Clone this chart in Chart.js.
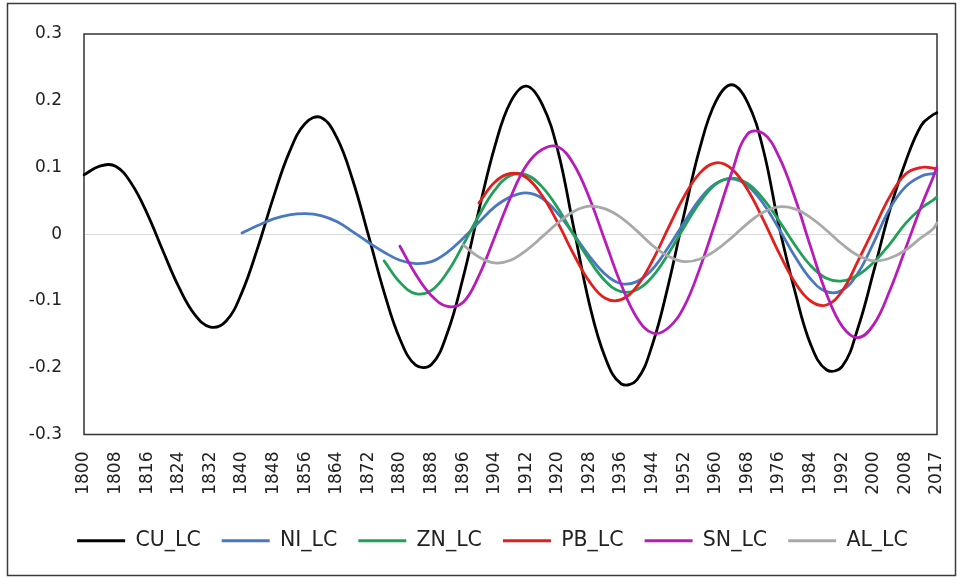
<!DOCTYPE html>
<html>
<head>
<meta charset="utf-8">
<script src="https://cdn.jsdelivr.net/npm/chart.js@4"></script>
<style>
  html, body { margin: 0; padding: 0; background: #ffffff; }
  #wrap { width: 960px; height: 578px; }
</style>
</head>
<body>
<div id="wrap"><canvas id="lcChart" width="960" height="578"></canvas></div>
<script>
// category axis: one label per year (2016 is not in the series)
const years = [];
for (let y = 1800; y <= 2017; y++) {
    if (y !== 2016) years.push(String(y));
}

// years where the cycle values were taken
const sampleYears = [1800, 1804, 1808, 1812, 1816, 1820, 1824, 1828, 1832, 1836,
    1840, 1844, 1848, 1852, 1856, 1860, 1864, 1868, 1872, 1876,
    1880, 1884, 1888, 1892, 1896, 1900, 1904, 1908, 1912, 1916,
    1920, 1924, 1928, 1932, 1936, 1940, 1944, 1948, 1952, 1956,
    1960, 1964, 1968, 1972, 1976, 1980, 1984, 1988, 1992, 1996,
    2000, 2004, 2008, 2012, 2015, 2017];

const cuLC = [0.089, 0.102, 0.102, 0.076, 0.031, -0.025, -0.079, -0.120, -0.139, -0.130,
    -0.087, -0.020, 0.056, 0.123, 0.166, 0.175, 0.145, 0.082, -0.001, -0.087,
    -0.157, -0.196, -0.195, -0.148, -0.065, 0.036, 0.131, 0.198, 0.222, 0.195,
    0.125, 0.010, -0.105, -0.185, -0.224, -0.218, -0.164, -0.075, 0.031, 0.130,
    0.199, 0.224, 0.198, 0.127, 0.012, -0.085, -0.165, -0.203, -0.198, -0.140,
    -0.055, 0.035, 0.108, 0.163, 0.179, 0.182];

const niLC = [null, null, null, null, null, null, null, null, null, null,
    0.002, 0.013, 0.023, 0.029, 0.031, 0.028, 0.019, 0.004, -0.012, -0.027,
    -0.039, -0.044, -0.041, -0.027, -0.006, 0.018, 0.041, 0.056, 0.062, 0.054,
    0.031, 0.000, -0.033, -0.060, -0.074, -0.071, -0.052, -0.019, 0.018, 0.053,
    0.076, 0.083, 0.073, 0.046, 0.008, -0.033, -0.067, -0.086, -0.084, -0.058,
    -0.012, 0.038, 0.071, 0.087, 0.091, 0.092];

const znLC = [null, null, null, null, null, null, null, null, null, null,
    null, null, null, null, null, null, null, null, null, -0.040,
    -0.072, -0.089, -0.084, -0.057, -0.016, 0.028, 0.066, 0.088, 0.089, 0.071,
    0.039, -0.001, -0.039, -0.070, -0.086, -0.083, -0.063, -0.029, 0.011, 0.048,
    0.075, 0.084, 0.076, 0.053, 0.020, -0.016, -0.047, -0.066, -0.070, -0.061,
    -0.042, -0.015, 0.016, 0.039, 0.051, 0.056];

const pbLC = [null, null, null, null, null, null, null, null, null, null,
    null, null, null, null, null, null, null, null, null, null,
    null, null, null, null, null, 0.047, 0.078, 0.091, 0.085, 0.058,
    0.017, -0.030, -0.071, -0.096, -0.098, -0.078, -0.039, 0.010, 0.057, 0.092,
    0.107, 0.098, 0.067, 0.022, -0.028, -0.072, -0.100, -0.106, -0.085, -0.040,
    0.008, 0.056, 0.090, 0.100, 0.099, 0.097];

const snLC = [null, null, null, null, null, null, null, null, null, null,
    null, null, null, null, null, null, null, null, null, null,
    -0.018, -0.060, -0.092, -0.108, -0.102, -0.062, -0.004, 0.055, 0.103, 0.127,
    0.131, 0.105, 0.054, -0.011, -0.075, -0.125, -0.148, -0.140, -0.108, -0.050,
    0.020, 0.092, 0.150, 0.151, 0.116, 0.055, -0.019, -0.089, -0.138, -0.155,
    -0.135, -0.085, -0.022, 0.042, 0.085, 0.101];

const alLC = [null, null, null, null, null, null, null, null, null, null,
    null, null, null, null, null, null, null, null, null, null,
    null, null, null, null, -0.016, -0.034, -0.043, -0.039, -0.024, -0.004,
    0.017, 0.034, 0.042, 0.038, 0.025, 0.005, -0.017, -0.033, -0.041, -0.037,
    -0.024, -0.005, 0.016, 0.033, 0.041, 0.038, 0.025, 0.006, -0.015, -0.032,
    -0.040, -0.036, -0.024, -0.005, 0.008, 0.017];

const yTicks = [-0.3, -0.2, -0.1, 0, 0.1, 0.2, 0.3];

const fontFamily = "'DejaVu Sans', 'Liberation Sans', sans-serif";

function toPoints(values) {
    return values
        .map((v, i) => ({ x: String(sampleYears[i]), y: v }))
        .filter(p => p.y !== null);
}

function series(label, values, color, order) {
    return {
        label: label,
        data: toPoints(values),
        borderColor: color,
        backgroundColor: color,
        borderWidth: 2.8,
        pointRadius: 0,
        pointHoverRadius: 0,
        tension: 0.4,
        fill: false,
        borderCapStyle: 'round',
        borderJoinStyle: 'round',
        order: order
    };
}

// white background, outer frame and the plot box
const framePlugin = {
    id: 'framePlugin',
    afterLayout(chart) {
        // legend row sits a bit right of the canvas centre
        const lg = chart.legend;
        if (lg) {
            lg.left += 24;
            lg.right += 24;
        }
    },
    beforeDraw(chart) {
        const ctx = chart.ctx;
        ctx.save();
        ctx.fillStyle = '#ffffff';
        ctx.fillRect(0, 0, chart.width, chart.height);
        ctx.strokeStyle = '#3a3a3a';
        ctx.lineWidth = 1.5;
        ctx.strokeRect(7.5, 3.5, 948, 572);
        ctx.restore();
    },
    beforeDatasetsDraw(chart) {
        const a = chart.chartArea;
        const ctx = chart.ctx;
        ctx.save();
        ctx.strokeStyle = '#333333';
        ctx.lineWidth = 1.5;
        ctx.strokeRect(a.left, a.top, a.right - a.left, a.bottom - a.top);
        ctx.restore();
    }
};

const ctx = document.getElementById('lcChart').getContext('2d');
const chart = new Chart(ctx, {
    type: 'line',
    data: {
        labels: years,
        datasets: [
            series('CU_LC', cuLC, '#000000', 6),
            series('NI_LC', niLC, '#4a78c0', 5),
            series('ZN_LC', znLC, '#22a05a', 4),
            series('PB_LC', pbLC, '#e0201e', 3),
            series('SN_LC', snLC, '#b81cb8', 2),
            series('AL_LC', alLC, '#a9a9a9', 1)
        ]
    },
    options: {
        responsive: false,
        animation: false,
        events: [],
        layout: {
            padding: { left: 0, right: 23, top: 34, bottom: 17 }
        },
        plugins: {
            tooltip: { enabled: false },
            legend: {
                position: 'bottom',
                reverse: true,
                labels: {
                    usePointStyle: true,
                    pointStyle: 'line',
                    pointStyleWidth: 48,
                    boxWidth: 48,
                    padding: 21,
                    color: '#222222',
                    font: { family: fontFamily, size: 20.5 }
                }
            }
        },
        scales: {
            x: {
                type: 'category',
                grid: { display: false, drawTicks: false },
                border: { display: false },
                ticks: {
                    autoSkip: false,
                    minRotation: 90,
                    maxRotation: 90,
                    padding: 17,
                    color: '#222222',
                    font: { family: fontFamily, size: 17 },
                    callback: function (val, index) {
                        return index % 8 === 0 ? this.getLabelForValue(val) : '';
                    }
                },
                afterFit: function (scale) {
                    scale.height = 75;
                    scale.paddingLeft = 0;
                    scale.paddingRight = 0;
                }
            },
            y: {
                min: yTicks[0],
                max: yTicks[yTicks.length - 1],
                grid: {
                    drawTicks: false,
                    lineWidth: 1,
                    color: c => (c.tick && c.tick.value === 0 ? '#d9d9d9' : 'rgba(0,0,0,0)')
                },
                border: { display: false },
                afterBuildTicks: function (scale) {
                    scale.ticks = yTicks.map(v => ({ value: v }));
                },
                ticks: {
                    padding: 22,
                    color: '#222222',
                    font: { family: fontFamily, size: 17 },
                    callback: v => String(+v.toFixed(1))
                },
                afterFit: function (scale) {
                    scale.width = 84;
                }
            }
        }
    },
    plugins: [framePlugin]
});
</script>
</body>
</html>
